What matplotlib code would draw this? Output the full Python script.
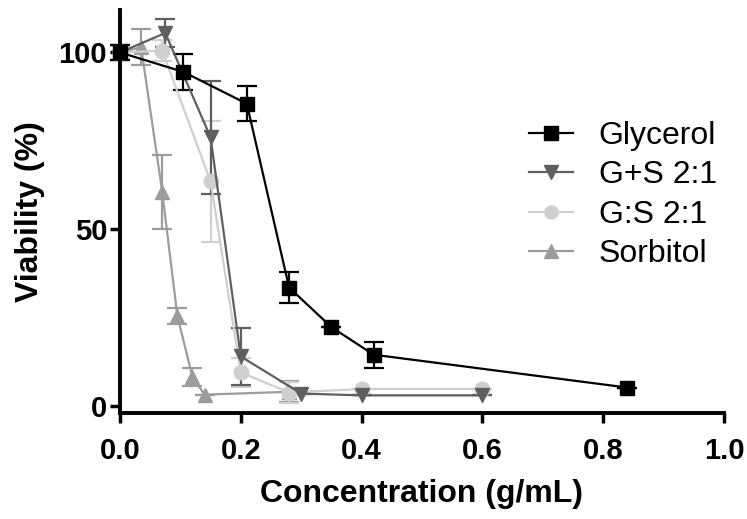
import matplotlib
matplotlib.use('Agg')
import matplotlib.pyplot as plt

# Data
gly_x = [0, 0.105, 0.21, 0.28, 0.35, 0.42, 0.84]
gly_y = [100, 94.5, 85.5, 33.5, 22.3, 14.5, 5.2]
gly_err = [2, 5, 5, 4.4, 0, 3.7, 0]

gs_plus_x = [0, 0.075, 0.15, 0.2, 0.3, 0.4, 0.6]
gs_plus_y = [100, 105.5, 76, 14, 3.5, 3, 3]
gs_plus_err = [2, 4, 16, 8, 0, 0, 0]

gs_ratio_x = [0, 0.07, 0.15, 0.2, 0.28, 0.4, 0.6]
gs_ratio_y = [100, 100.5, 63.5, 9.5, 3.8, 4.8, 4.8]
gs_ratio_err = [2, 3, 17, 4, 3, 0, 0]

sor_x = [0, 0.035, 0.07, 0.095, 0.12, 0.14, 0.28]
sor_y = [100, 101.5, 60.5, 25.5, 8.2, 3.2, 4.0]
sor_err = [2, 5, 10.5, 2.2, 2.5, 0, 3]

series = [
    ('Glycerol', gly_x, gly_y, gly_err, 's', '#000000'),
    ('G+S 2:1', gs_plus_x, gs_plus_y, gs_plus_err, 'v', '#5f5f5f'),
    ('G:S 2:1', gs_ratio_x, gs_ratio_y, gs_ratio_err, 'o', '#cfcfcf'),
    ('Sorbitol', sor_x, sor_y, sor_err, '^', '#9c9c9c'),
]

fam = ['Liberation Sans', 'DejaVu Sans']

fig = plt.figure(figsize=(7.47, 5.19), dpi=100)
ax = fig.add_axes([0.1606, 0.2042, 0.8086, 0.7765])

# draw in reverse so glycerol sits on top
for name, x, y, err, mk, col in reversed(series):
    ax.errorbar(x, y, yerr=err, color=col, marker=mk, markersize=10.5,
                linewidth=1.6, elinewidth=1.6, capsize=7, capthick=1.6,
                label=name, clip_on=False)

ax.set_xlim(0, 1.0)
ax.set_ylim(-2, 112)
ax.set_xticks([0, 0.2, 0.4, 0.6, 0.8, 1.0])
ax.set_xticklabels(['0.0', '0.2', '0.4', '0.6', '0.8', '1.0'])
ax.set_yticks([0, 50, 100])

ax.spines['top'].set_visible(False)
ax.spines['right'].set_visible(False)
ax.spines['left'].set_linewidth(2.8)
ax.spines['bottom'].set_linewidth(2.8)
ax.tick_params(width=2.5, length=7.2, labelsize=21)
ax.tick_params(axis='x', pad=10)
ax.tick_params(axis='y', pad=2)
for lab in ax.get_xticklabels() + ax.get_yticklabels():
    lab.set_fontweight('bold')
    lab.set_fontfamily(fam)

ax.set_xlabel('Concentration (g/mL)', fontsize=23, fontweight='bold',
              family=fam, labelpad=10)
ax.set_ylabel('Viability (%)', fontsize=23, fontweight='bold',
              family=fam, labelpad=10)

handles, labels = ax.get_legend_handles_labels()
handles = [h[0] for h in handles[::-1]]
leg = ax.legend(handles, labels[::-1], loc='upper left', bbox_to_anchor=(0.65, 0.765),
                frameon=False, prop={'family': fam, 'size': 23}, borderpad=0,
                handlelength=1.4, handletextpad=0.8, labelspacing=0.3, markerscale=0.9)

fig.savefig('out.png', dpi=100)
